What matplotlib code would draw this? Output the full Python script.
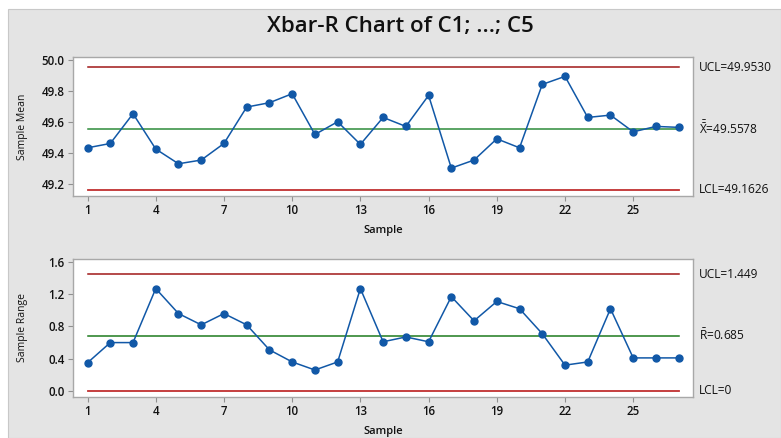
import matplotlib
matplotlib.use("Agg")
import matplotlib.pyplot as plt
from matplotlib.patches import Rectangle
import matplotlib.transforms as mtransforms

plt.rcParams['font.family'] = ['Open Sans', 'DejaVu Sans']
plt.rcParams['mathtext.fontset'] = 'custom'
plt.rcParams['mathtext.rm'] = 'Open Sans'
plt.rcParams['mathtext.it'] = 'Open Sans'

samples = list(range(1, 28))
xbar = [49.434, 49.462, 49.654, 49.426, 49.331, 49.355, 49.462, 49.697, 49.725,
        49.783, 49.520, 49.602, 49.456, 49.630, 49.572, 49.772, 49.303, 49.355,
        49.492, 49.434, 49.843, 49.895, 49.630, 49.645, 49.537, 49.572, 49.566]
ranges = [0.35, 0.60, 0.60, 1.27, 0.96, 0.82, 0.96, 0.82, 0.51, 0.36, 0.26, 0.36,
          1.27, 0.61, 0.67, 0.61, 1.17, 0.87, 1.11, 1.02, 0.71, 0.32, 0.36, 1.02,
          0.41, 0.41, 0.41]
xbar_limits = {'UCL': 49.9530, 'CL': 49.5578, 'LCL': 49.1626}
r_limits = {'UCL': 1.449, 'CL': 0.685, 'LCL': 0.0}
xticks = [1, 4, 7, 10, 13, 16, 19, 22, 25]

W, H = 781, 438
fig = plt.figure(figsize=(W / 100, H / 100), dpi=100)
fig.patch.set_facecolor('white')
bg = '#e4e4e4'
fig.patches.append(Rectangle((8 / W, 0), 1 - 8 / W, 1 - 9 / H, transform=fig.transFigure,
                             facecolor=bg, edgecolor='#c8c8c8', linewidth=0.8, zorder=-10))

fig.text(400 / W, 1 - 27 / H, 'Xbar-R Chart of C1; ...; C5', ha='center', va='center',
         fontsize=16, fontweight='semibold', color='#111111')

blue = '#1158a7'
red_u = '#a01818'
red_l = '#c03030'
green = '#2e8b3a'
spine_c = '#a8a8a8'

def setup(ax, ylim, yticks, yfmt, ylabel):
    ax.set_zorder(1)
    ax.set_facecolor('white')
    ax.set_xlim(0.36, 27.63)
    ax.set_ylim(*ylim)
    ax.set_xticks(xticks)
    ax.set_xticklabels([str(t) for t in xticks])
    ax.set_yticks(yticks)
    ax.set_yticklabels([yfmt.format(t) for t in yticks])
    for s in ax.spines.values():
        s.set_color(spine_c)
        s.set_linewidth(1.0)
    ax.tick_params(axis='both', direction='out', length=3.5, width=0.8, color='#909090',
                   labelsize=8.3, pad=2.5, labelcolor='#111111')
    for lab in ax.get_xticklabels() + ax.get_yticklabels():
        lab.set_fontweight('semibold')
    ax.set_xlabel('Sample', fontsize=8, fontweight='semibold', color='#111111')
    ax.xaxis.set_label_coords(0.5, -0.21)
    ax.set_ylabel(ylabel, fontsize=7.5, color='#111111')
    ax.yaxis.set_label_coords(-0.073, 0.5)

# Xbar chart
ax1 = fig.add_axes([73 / W, 1 - 196 / H, 620 / W, 139 / H])
setup(ax1, (49.123, 50.02), [49.2, 49.4, 49.6, 49.8, 50.0], '{:.1f}', 'Sample Mean')
ax1.plot([1, 27], [xbar_limits['UCL']] * 2, color=red_u, lw=1.1, zorder=2)
ax1.plot([1, 27], [xbar_limits['LCL']] * 2, color=red_l, lw=1.3, zorder=2)
ax1.plot([1, 27], [xbar_limits['CL']] * 2, color=green, lw=1.1, zorder=2)
ax1.plot(samples, xbar, color=blue, lw=1.1, marker='o', ms=5, zorder=3)
tr1 = mtransforms.blended_transform_factory(ax1.transAxes, ax1.transData)
ax1.text(1.0097, xbar_limits['UCL'], 'UCL=49.9530', transform=tr1, va='center', ha='left',
         fontsize=8.6, color='#111111')
ax1.text(1.0097, xbar_limits['CL'], r'$\bar{\bar{\mathrm{X}}}$=49.5578', transform=tr1,
         va='center', ha='left', fontsize=8.6, color='#111111')
ax1.text(1.0097, xbar_limits['LCL'], 'LCL=49.1626', transform=tr1, va='center', ha='left',
         fontsize=8.6, color='#111111')

# R chart
ax2 = fig.add_axes([73 / W, 1 - 397 / H, 620 / W, 138 / H])
setup(ax2, (-0.075, 1.637), [0.0, 0.4, 0.8, 1.2, 1.6], '{:.1f}', 'Sample Range')
ax2.plot([1, 27], [r_limits['UCL']] * 2, color=red_u, lw=1.1, zorder=2)
ax2.plot([1, 27], [r_limits['LCL']] * 2, color=red_l, lw=1.3, zorder=2)
ax2.plot([1, 27], [r_limits['CL']] * 2, color='#1e7a1e', lw=1.1, zorder=2)
ax2.plot(samples, ranges, color=blue, lw=1.1, marker='o', ms=5, zorder=3)
tr2 = mtransforms.blended_transform_factory(ax2.transAxes, ax2.transData)
ax2.text(1.0097, r_limits['UCL'], 'UCL=1.449', transform=tr2, va='center', ha='left',
         fontsize=8.6, color='#111111')
ax2.text(1.0097, r_limits['CL'], r'$\bar{\mathrm{R}}$=0.685', transform=tr2, va='center',
         ha='left', fontsize=8.6, color='#111111')
ax2.text(1.0097, r_limits['LCL'], 'LCL=0', transform=tr2, va='center', ha='left',
         fontsize=8.6, color='#111111')

fig.savefig('out.png', dpi=100, facecolor=fig.get_facecolor())
